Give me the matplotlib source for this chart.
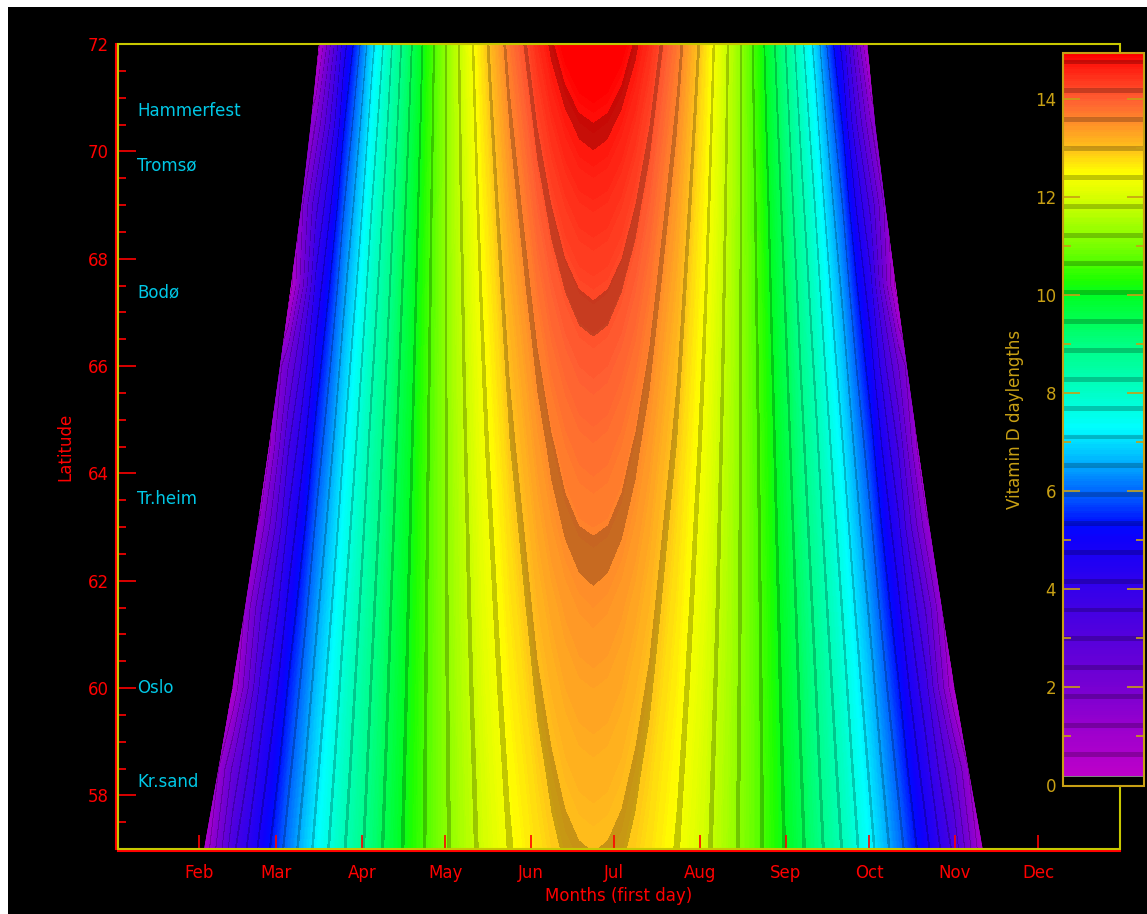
import numpy as np
import matplotlib
matplotlib.use("Agg")
import matplotlib.pyplot as plt
import matplotlib.transforms as mtransforms
from matplotlib.colors import LinearSegmentedColormap
from matplotlib.patches import Polygon, Rectangle
from matplotlib.ticker import MultipleLocator, FixedLocator

# ---------------- data ----------------
latitudes = [57, 58.5, 60, 61.5, 63, 64.5, 66, 67.5, 69, 70.5, 72]
days = [0, 24.5, 34.5, 44.5, 54.5, 64.5, 74.5, 84.5, 94.5, 104.5, 114.5,
        124.5, 134.5, 144.5, 154.5, 159.5, 164.5, 169.5, 174.5, 179.5, 184.5,
        189.5, 194.5, 204.5, 214.5, 224.5, 234.5, 244.5, 254.5, 264.5, 274.5,
        284.5, 294.5, 304.5, 314.5, 324.5, 365]

hours_57 = [0, 0, 0.80, 3.42, 4.92, 6.15, 7.24, 8.23, 9.12, 9.95, 10.69, 11.35,
            11.93, 12.40, 12.75, 12.88, 12.97, 13.02, 13.04, 13.02, 12.97, 12.88,
            12.75, 12.40, 11.93, 11.35, 10.69, 9.95, 9.12, 8.23, 7.24, 6.15, 4.92,
            3.42, 0.80, 0, 0]
hours_58_5 = [0, 0, 0, 2.51, 4.40, 5.79, 6.99, 8.05, 9.01, 9.89, 10.68, 11.38,
              11.99, 12.49, 12.86, 13.00, 13.10, 13.16, 13.18, 13.16, 13.10, 13.00,
              12.86, 12.49, 11.99, 11.38, 10.68, 9.89, 9.01, 8.05, 6.99, 5.79, 4.40,
              2.51, 0, 0, 0]
hours_60 = [0, 0, 0, 0.67, 3.75, 5.38, 6.71, 7.86, 8.89, 9.82, 10.66, 11.41,
            12.06, 12.59, 12.99, 13.13, 13.24, 13.30, 13.32, 13.30, 13.24, 13.13,
            12.99, 12.59, 12.06, 11.41, 10.66, 9.82, 8.89, 7.86, 6.71, 5.38, 3.75,
            0.67, 0, 0, 0]
hours_61_5 = [0, 0, 0, 0, 2.89, 4.89, 6.38, 7.64, 8.75, 9.75, 10.64, 11.44,
              12.13, 12.69, 13.12, 13.27, 13.38, 13.45, 13.48, 13.45, 13.38, 13.27,
              13.12, 12.69, 12.13, 11.44, 10.64, 9.75, 8.75, 7.64, 6.38, 4.89, 2.89,
              0, 0, 0, 0]
hours_63 = [0, 0, 0, 0, 1.46, 4.29, 6.00, 7.39, 8.59, 9.66, 10.61, 11.46,
            12.20, 12.80, 13.26, 13.43, 13.55, 13.62, 13.64, 13.62, 13.55, 13.43,
            13.26, 12.80, 12.20, 11.46, 10.61, 9.66, 8.59, 7.39, 6.00, 4.29, 1.46,
            0, 0, 0, 0]
hours_64_5 = [0, 0, 0, 0, 0, 3.51, 5.56, 7.10, 8.41, 9.56, 10.58, 11.49,
              12.28, 12.93, 13.41, 13.59, 13.72, 13.80, 13.83, 13.80, 13.72, 13.59,
              13.41, 12.93, 12.28, 11.49, 10.58, 9.56, 8.41, 7.10, 5.56, 3.51, 0,
              0, 0, 0, 0]
hours_66 = [0, 0, 0, 0, 0, 2.38, 5.01, 6.76, 8.19, 9.44, 10.54, 11.52,
            12.36, 13.06, 13.58, 13.78, 13.91, 14.00, 14.03, 14.00, 13.91, 13.78,
            13.58, 13.06, 12.36, 11.52, 10.54, 9.44, 8.19, 6.76, 5.01, 2.38, 0,
            0, 0, 0, 0]
hours_67_5 = [0, 0, 0, 0, 0, 0, 4.33, 6.36, 7.95, 9.31, 10.49, 11.54,
              12.45, 13.20, 13.77, 13.98, 14.13, 14.22, 14.25, 14.22, 14.13, 13.98,
              13.77, 13.20, 12.45, 11.54, 10.49, 9.31, 7.95, 6.36, 4.33, 0, 0,
              0, 0, 0, 0]
hours_69 = [0, 0, 0, 0, 0, 0, 3.40, 5.88, 7.66, 9.15, 10.44, 11.57,
            12.55, 13.36, 13.98, 14.21, 14.37, 14.47, 14.50, 14.47, 14.37, 14.21,
            13.98, 13.36, 12.55, 11.57, 10.44, 9.15, 7.66, 5.88, 3.40, 0, 0,
            0, 0, 0, 0]
hours_70_5 = [0, 0, 0, 0, 0, 0, 1.85, 5.27, 7.32, 8.96, 10.36, 11.59,
              12.66, 13.54, 14.22, 14.47, 14.64, 14.75, 14.79, 14.75, 14.64, 14.47,
              14.22, 13.54, 12.66, 11.59, 10.36, 8.96, 7.32, 5.27, 1.85, 0, 0,
              0, 0, 0, 0]
hours_72 = [0, 0, 0, 0, 0, 0, 0, 4.49, 6.90, 8.74, 10.28, 11.62,
            12.78, 13.75, 14.49, 14.76, 14.96, 15.08, 15.12, 15.08, 14.96, 14.76,
            14.49, 13.75, 12.78, 11.62, 10.28, 8.74, 6.90, 4.49, 0, 0, 0,
            0, 0, 0, 0]

# first / last day with any vitamin-D hours, per latitude
season_start = [34.0, 39.2, 44.2, 48.8, 53.2, 57.4, 61.4, 65.4, 69.2, 72.5, 75.5]
season_end = [315.0, 309.8, 304.8, 300.2, 295.8, 291.6, 287.6, 283.6, 279.8, 276.2, 273.3]

month_days = [32, 60, 91, 121, 152, 182, 213, 244, 274, 305, 335]
month_labels = ["Feb", "Mar", "Apr", "May", "Jun", "Jul", "Aug", "Sep",
                "Oct", "Nov", "Dec"]

city_names = ["Hammerfest", "Tromsø", "Bodø", "Tr.heim", "Oslo", "Kr.sand"]
city_lat = [70.66, 69.65, 67.28, 63.43, 59.91, 58.15]

# ---------------- style ----------------
W, H = 1147, 914
RED = "#ff0000"
GOLD = "#c8a014"
YELLOW = "#c8c800"
CYAN = "#00c8e6"
FS = 12

vmax = 14.94
cm_pts = [(0.0, (195, 0, 200)), (1.0, (160, 0, 205)), (2.0, (118, 0, 210)),
          (3.0, (85, 0, 220)), (4.0, (52, 0, 235)), (5.0, (15, 0, 250)),
          (5.3, (0, 10, 255)), (6.0, (0, 105, 255)), (6.8, (0, 200, 255)),
          (7.3, (0, 255, 255)), (8.0, (0, 255, 200)), (9.0, (0, 255, 130)),
          (10.0, (0, 255, 35)), (10.3, (30, 255, 0)), (11.0, (120, 255, 0)),
          (12.0, (215, 255, 0)), (12.5, (255, 255, 0)), (13.0, (255, 195, 25)),
          (13.5, (255, 145, 40)), (14.0, (255, 95, 50)), (14.5, (255, 45, 25)),
          (14.94, (255, 0, 0))]
cmap = LinearSegmentedColormap.from_list(
    "vitd", [(v / vmax, tuple(c / 255 for c in rgb)) for v, rgb in cm_pts])

step = 0.588
band_w = 0.1
band_lo = step * np.arange(1, 26)
lv = np.concatenate([[0.0, 0.18], np.arange(0.2, 15.25, 0.04), band_lo, band_lo + band_w])
lv = np.unique(np.round(lv, 4))
colors = []
for lo, hi in zip(lv[:-1], lv[1:]):
    m = 0.5 * (lo + hi)
    if hi <= 0.18 + 1e-9:
        colors.append((0, 0, 0, 1))
    elif hi <= 0.2 + 1e-9:
        colors.append((0.5, 0.5, 0.5, 1))
    else:
        c = np.array(cmap(min(m, vmax) / vmax))
        if np.any((m > band_lo) & (m < band_lo + band_w)):
            c[:3] *= 0.78
        colors.append(tuple(c))

fig = plt.figure(figsize=(W / 100, H / 100), dpi=100, facecolor="white")
fig.add_artist(Rectangle((8 / W, 0), 1, (H - 7) / H, transform=fig.transFigure,
                         facecolor="black", edgecolor="none", zorder=-10))

ax = fig.add_axes([118 / W, (H - 849) / H, 1002 / W, 805 / H])
ax.set_facecolor("black")

Z = np.array([hours_57, hours_58_5, hours_60, hours_61_5, hours_63, hours_64_5,
              hours_66, hours_67_5, hours_69, hours_70_5, hours_72])
cs = ax.contourf(days, latitudes, Z, levels=lv, colors=colors, antialiased=False)
verts = list(zip(season_start, latitudes)) + list(zip(season_end[::-1], latitudes[::-1]))
clip = Polygon(verts, closed=True, transform=ax.transData)
cs.set_clip_path(clip)

ax.set_xlim(2.9, 364.6)
ax.set_ylim(57, 72)

for s in ["top", "right"]:
    ax.spines[s].set_visible(False)
for s in ["left", "bottom"]:
    ax.spines[s].set_color(RED)
    ax.spines[s].set_linewidth(1.5)
    ax.spines[s].set_position(("outward", 1.5))
ax.add_patch(Rectangle((0, 0), 1, 1, transform=ax.transAxes, fill=False,
                       edgecolor=YELLOW, lw=1.5, clip_on=False, zorder=5))

ax.set_yticks(np.arange(58, 73, 2))
ax.yaxis.set_minor_locator(MultipleLocator(0.5))
ax.tick_params(axis="y", which="major", direction="in", length=14.4, width=1.2,
               color=RED, labelcolor=RED, labelsize=FS, pad=5)
ax.tick_params(axis="y", which="minor", direction="in", length=7.2, width=1.2, color=RED)
ax.set_xticks(month_days, month_labels)
ax.tick_params(axis="x", which="major", direction="in", length=11.5, width=1.2,
               color=RED, labelcolor=RED, labelsize=FS, pad=9)
ax.tick_params(axis="x", which="minor", bottom=False)

ax.set_xlabel("Months (first day)", color=RED, fontsize=FS, labelpad=4)
ax.set_ylabel("Latitude", color=RED, fontsize=FS, labelpad=10)

trans = mtransforms.blended_transform_factory(ax.transAxes, ax.transData)
for name, lat in zip(city_names, city_lat):
    ax.text(0.019, lat, name, transform=trans, color=CYAN, fontsize=FS,
            ha="left", va="baseline", zorder=6)

# colourbar
cax = fig.add_axes([1063 / W, (H - 785.5) / H, 81 / W, (785.5 - 52.7) / H])
cbar = fig.colorbar(cs, cax=cax, spacing="proportional")
cax.set_ylim(0, vmax)
cbar.set_ticks(np.arange(0, 15, 2))
cbar.set_ticklabels([str(v) for v in range(0, 15, 2)])
cax.yaxis.set_minor_locator(FixedLocator(np.arange(1, 15, 2)))
cax.tick_params(which="both", direction="in", left=True, right=True,
                labelleft=True, labelright=False, color=GOLD, labelcolor=GOLD,
                labelsize=FS, width=1.2)
cax.tick_params(which="major", length=12, pad=5)
cax.tick_params(which="minor", length=5.5)
cax.yaxis.set_label_position("left")
cbar.set_label("Vitamin D daylengths", color=GOLD, fontsize=FS, labelpad=8)
cbar.outline.set_edgecolor(GOLD)
cbar.outline.set_linewidth(1.5)

fig.savefig("out.png", dpi=100, facecolor=fig.get_facecolor())
